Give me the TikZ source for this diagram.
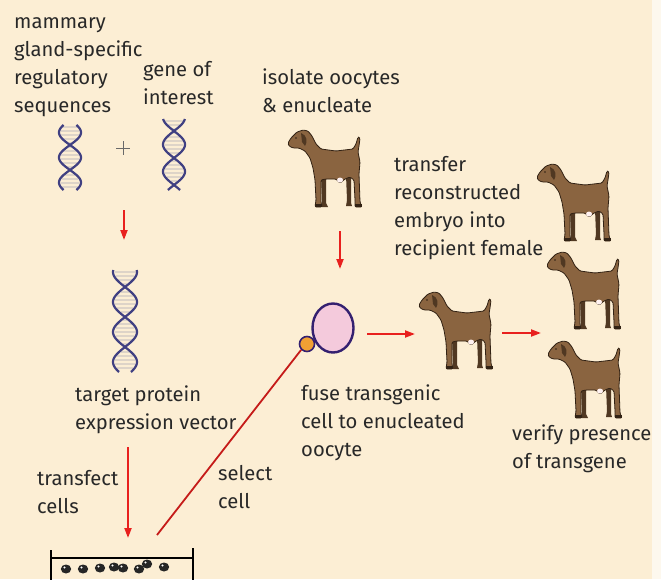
\documentclass[tikz,border=0pt]{standalone}
\usepackage{fontspec}
\setmainfont{Fira Sans}
\usetikzlibrary{arrows.meta,calc}

\definecolor{paper}{RGB}{252,238,212}
\definecolor{paperedge}{RGB}{253,248,238}
\definecolor{ink}{RGB}{40,40,40}
\definecolor{redarrow}{RGB}{232,32,30}
\definecolor{goatfur}{RGB}{138,100,64}
\definecolor{goatdark}{RGB}{80,56,34}
\definecolor{goatline}{RGB}{50,34,20}
\definecolor{helixstrand}{RGB}{64,64,130}
\definecolor{helixrung}{RGB}{222,212,200}
\definecolor{oocytefill}{RGB}{244,202,220}
\definecolor{oocyteline}{RGB}{52,32,112}
\definecolor{donorfill}{RGB}{240,160,52}

\tikzset{
  caption/.style={anchor=base west, inner sep=0pt, align=left, text=ink,
    font=\fontsize{20.2}{28}\selectfont},
  flow/.style={draw=redarrow, line width=2pt, -{Triangle[length=10pt,width=7pt]}},
  pickline/.style={draw=redarrow!85!black, line width=1.8pt},
  strand/.style={draw=helixstrand, line width=2.2pt},
  rung/.style={draw=helixrung, line width=1.2pt},
  dishwall/.style={draw=black, line width=1.5pt},
  cellblob/.style={fill=black!85},
  goat/.pic={
    % far legs
    \fill[goatdark] (33,46) -- (38,46) -- (38,73) -- (40,77) -- (34,77) -- (34,70) -- cycle;
    \fill[goatdark] (58,45) -- (63,45) -- (63,73) -- (64,76) -- (58,76) -- (59,70) -- cycle;
    % body outline
    \filldraw[fill=goatfur, draw=goatline, line width=0.8pt, rounded corners=1.2pt]
      (0,13) -- (3,8) -- (9,2) -- (15,0) -- (20,1) -- (24,6) -- (28,14) -- (33,19)
      -- (48,21) -- (65,19) -- (68,14) -- (70,7) -- (72,8) -- (71,16) -- (70,22)
      -- (72,32) -- (71,44) -- (72,72) -- (74,77) -- (67,77) -- (67,70) -- (66,50)
      -- (62,47) -- (57,49) -- (52,53) -- (48,49) -- (38,49) -- (33,50) -- (33,72)
      -- (34,77) -- (27,77) -- (28,70) -- (27,50) -- (25,38) -- (22,28) -- (17,21)
      -- (11,18) -- (5,18) -- (1,16) -- cycle;
    % ear, eye, hooves, udder
    \fill[goatdark] (13,3) .. controls (19,5) and (20,12) .. (17,16) -- (14,12) -- cycle;
    \fill[goatline] (8,8) circle (0.8pt);
    \fill[goatline] (27,74) rectangle (34,77);
    \fill[goatline] (67,74) rectangle (74,77);
    \fill[white!80!pink] (52,50) ellipse (3pt and 2.5pt);
  },
}

\begin{document}
\begin{tikzpicture}[x=1pt, y=-1pt]
  % paper
  \fill[paper] (0,0) rectangle (661,579);
  \fill[paperedge] (652,0) rectangle (661,579);
  \useasboundingbox (0,0) rectangle (661,579);

  % --- DNA: regulatory sequences ---
  \foreach \t in {127,131,...,187}
    \draw[rung] ({70-11*abs(sin((\t-145)/25*180))+1.5},\t) -- ({70+11*abs(sin((\t-145)/25*180))-1.5},\t);
  \draw[strand] plot[domain=125:190, samples=60, variable=\t] ({70+11*sin((\t-145)/25*180)},\t);
  \draw[strand] plot[domain=125:190, samples=60, variable=\t] ({70-11*sin((\t-145)/25*180)},\t);

  % --- DNA: gene of interest ---
  \foreach \t in {121,125,...,188}
    \draw[rung] ({174-11*abs(sin((\t-131)/27*180))+1.5},\t) -- ({174+11*abs(sin((\t-131)/27*180))-1.5},\t);
  \draw[strand] plot[domain=119:190, samples=60, variable=\t] ({174+11*sin((\t-131)/27*180)},\t);
  \draw[strand] plot[domain=119:190, samples=60, variable=\t] ({174-11*sin((\t-131)/27*180)},\t);

  % plus sign between the two sequences
  \coordinate (plus) at (123,148);
  \draw[ink!70, line width=0.9pt] ($(plus)+(-7,0)$) -- ($(plus)+(7,0)$);
  \draw[ink!70, line width=0.9pt] ($(plus)+(0,-7)$) -- ($(plus)+(0,7)$);

  % --- DNA: expression vector ---
  \foreach \t in {272,276,...,370}
    \draw[rung] ({125-12*abs(sin((\t-287)/30*180))+1.5},\t) -- ({125+12*abs(sin((\t-287)/30*180))-1.5},\t);
  \draw[strand] plot[domain=270:372, samples=90, variable=\t] ({125+12*sin((\t-287)/30*180)},\t);
  \draw[strand] plot[domain=270:372, samples=90, variable=\t] ({125-12*sin((\t-287)/30*180)},\t);

  % --- culture dish ---
  \draw[dishwall] (51,550) -- (51,580);
  \draw[dishwall] (193,548) -- (193,580);
  \draw[dishwall] (51,558) -- (193,558);
  \foreach \cx/\cy in {66/569, 83/569, 100/568, 114/567, 123/568, 139/569, 147/564, 164/567} {
    \fill[cellblob] (\cx,\cy) ellipse (5.2pt and 4.5pt);
    \fill[white] (\cx-1.5,\cy-1.5) circle (1.1pt);
  }
  \coordinate (pick) at (157,535);

  % --- goats ---
  \pic (donorgoat) at (288,130) {goat};
  \pic (surrogate) at (419,292) {goat};
  \pic (kidA) at (537,164) {goat};
  \pic (kidB) at (547,252) {goat};
  \pic (kidC) at (548,341) {goat};

  % --- oocyte and transgenic cell ---
  \filldraw[fill=oocytefill, draw=oocyteline, line width=2.4pt] (333,328) ellipse (20.5pt and 24.5pt);
  \node[circle, fill=donorfill, draw=oocyteline, line width=1.6pt, minimum size=15pt, inner sep=0pt] (donor) at (307,344) {};

  % --- arrows ---
  \coordinate (a1s) at (124,210); \coordinate (a1e) at (124,240);
  \draw[flow] (a1s) -- (a1e);
  \coordinate (a2s) at (128,447); \coordinate (a2e) at (128,538);
  \draw[flow] (a2s) -- (a2e);
  \coordinate (a3s) at (340,231); \coordinate (a3e) at (340,269);
  \draw[flow] (a3s) -- (a3e);
  \coordinate (a4s) at (367,334); \coordinate (a4e) at (415,334);
  \draw[flow] (a4s) -- (a4e);
  \coordinate (a5s) at (502,333); \coordinate (a5e) at (541,333);
  \draw[flow] (a5s) -- (a5e);
  \draw[pickline] (pick) -- (donor.south west);

  % --- captions (anchored on the baseline of the last line) ---
  \node[caption] (regseq) at (14,112) {mammary\\gland-specific\\regulatory\\sequences};
  \node[caption] (gene) at (143,104) {gene of\\interest};
  \node[caption] (isolate) at (262,112) {isolate oocytes\\\& enucleate};
  \node[caption] (transfer) at (394,255) {transfer\\reconstructed\\embryo into\\recipient female};
  \node[caption] (vector) at (75,429) {target protein\\expression vector};
  \node[caption] (fuse) at (301,456) {fuse transgenic\\cell to enucleated\\oocyte};
  \node[caption] (verify) at (512,468) {verify presence\\of transgene};
  \node[caption] (transfect) at (37,513) {transfect\\cells};
  \node[caption] (select) at (218,508) {select\\cell};
\end{tikzpicture}
\end{document}
